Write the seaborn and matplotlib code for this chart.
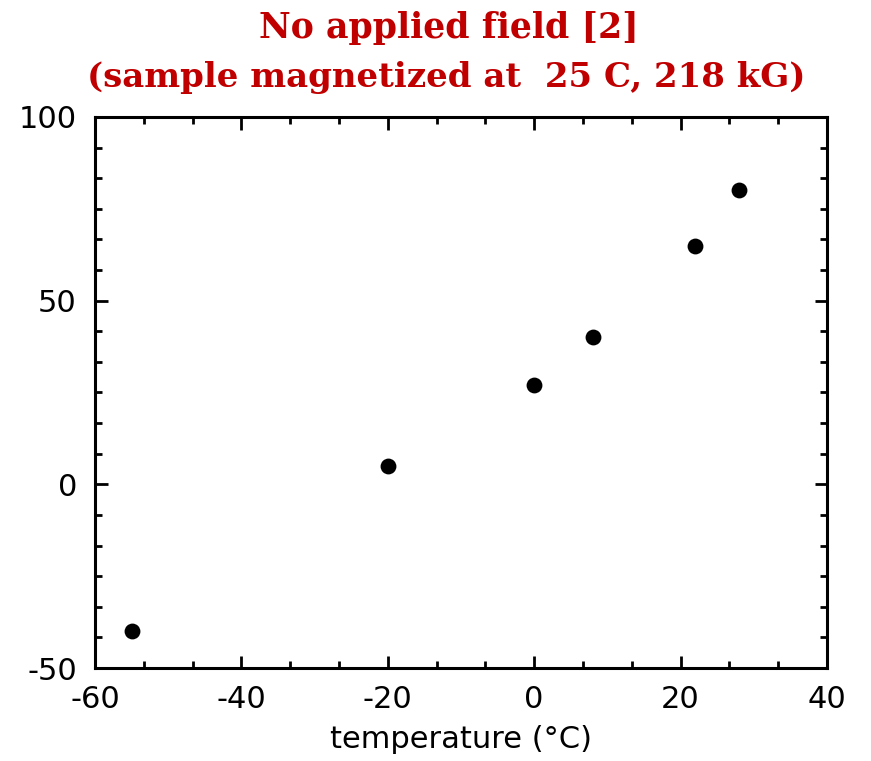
import numpy as np
import pandas as pd
import matplotlib
matplotlib.use("Agg")
import matplotlib.pyplot as plt
from matplotlib.ticker import MultipleLocator
import seaborn as sns

# Data
temperature = [-55, -20, 0, 8, 22, 28]
value = [-40, 5, 27, 40, 65, 80]

title_lines = ["No applied field [2]", "(sample magnetized at  25 C, 218 kG)"]

df = pd.DataFrame({"temperature": temperature, "value": value})

sns.set_style("ticks")
plt.rcParams['font.family'] = ['DejaVu Sans']
plt.rcParams['axes.unicode_minus'] = False

fig = plt.figure(figsize=(8.71, 7.61), dpi=100)
ax = fig.add_axes([0.109, 0.1222, 0.8405, 0.7241])

sns.scatterplot(data=df, x="temperature", y="value", ax=ax,
                color="black", s=130, edgecolor="black", linewidth=0)

ax.set_xlim(-60, 40)
ax.set_ylim(-50, 100)
ax.xaxis.set_major_locator(MultipleLocator(20))
ax.xaxis.set_minor_locator(MultipleLocator(20 / 3))
ax.yaxis.set_major_locator(MultipleLocator(50))
ax.yaxis.set_minor_locator(MultipleLocator(50 / 6))

for sp in ax.spines.values():
    sp.set_linewidth(2.2)
    sp.set_color("black")
    sp.set_visible(True)

ax.tick_params(which="both", direction="in", top=True, right=True,
               width=2, colors="black", labelsize=22)
ax.tick_params(which="major", length=9)
ax.tick_params(axis="y", which="major", pad=13)
ax.tick_params(axis="x", which="major", pad=12)
ax.tick_params(which="minor", length=5)

ax.set_xlabel("temperature (°C)", fontsize=22, labelpad=8, color="black")
ax.set_ylabel("")

fig.text(0.515, 0.985, title_lines[0], ha="center", va="top",
         fontsize=25, fontweight="bold", color="#C00000", family="DejaVu Serif")
fig.text(0.512, 0.92, title_lines[1], ha="center", va="top",
         fontsize=24.5, fontweight="bold", color="#C00000", family="DejaVu Serif")

fig.savefig("out.png", dpi=100)
